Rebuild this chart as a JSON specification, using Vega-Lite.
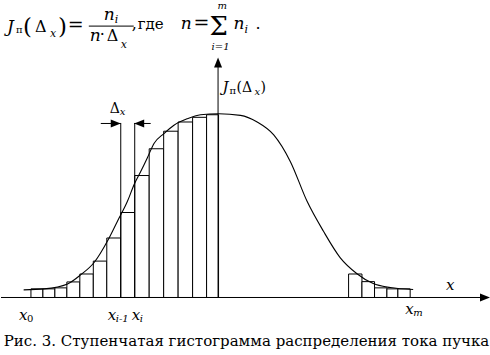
{
  "$schema": "https://vega.github.io/schema/vega-lite/v6.json",
  "width": 490,
  "height": 355,
  "autosize": {"type": "fit", "contains": "padding"},
  "padding": 0,
  "background": "white",
  "config": {"view": {"stroke": null}},
  "datasets": {
    "bars": [
      {"x": 30, "x2": 42, "y": 8.7}, {"x": 42, "x2": 54, "y": 8.7}, {"x": 54, "x2": 66, "y": 9.7},
      {"x": 66, "x2": 79, "y": 15.7}, {"x": 79, "x2": 92.5, "y": 23.7}, {"x": 92.5, "x2": 106, "y": 36.7},
      {"x": 106, "x2": 120, "y": 60}, {"x": 120, "x2": 134, "y": 85.7}, {"x": 134, "x2": 148.5, "y": 123},
      {"x": 148.5, "x2": 163, "y": 150}, {"x": 163, "x2": 177.5, "y": 167.7}, {"x": 177.5, "x2": 192, "y": 177},
      {"x": 192, "x2": 206, "y": 181.7}, {"x": 206, "x2": 218, "y": 184.3},
      {"x": 348.3, "x2": 361.7, "y": 23.7}, {"x": 361.7, "x2": 374.3, "y": 16}, {"x": 374.3, "x2": 386.7, "y": 9.7},
      {"x": 386.7, "x2": 397.7, "y": 8.7}, {"x": 397.7, "x2": 410, "y": 8.7}
    ],
    "curve": [
      {"x": 22.7, "y": 7.7}, {"x": 43.3, "y": 8.7}, {"x": 66.7, "y": 13.7}, {"x": 80, "y": 23}, {"x": 93.3, "y": 35.3},
      {"x": 106.7, "y": 57}, {"x": 116.7, "y": 77}, {"x": 126.7, "y": 97}, {"x": 133.3, "y": 113.7}, {"x": 140, "y": 127},
      {"x": 146.7, "y": 141}, {"x": 153.3, "y": 155.3}, {"x": 163.3, "y": 165.3}, {"x": 173.3, "y": 173.7},
      {"x": 186.7, "y": 180.3}, {"x": 200, "y": 184.3}, {"x": 218.3, "y": 185.3}, {"x": 240, "y": 183.7},
      {"x": 256.7, "y": 177}, {"x": 273.3, "y": 164}, {"x": 290, "y": 137}, {"x": 306.7, "y": 97}, {"x": 323, "y": 67},
      {"x": 340, "y": 40}, {"x": 356.7, "y": 24}, {"x": 373, "y": 14}, {"x": 390, "y": 10}, {"x": 413, "y": 8}
    ],
    "hrules": [
      {"x": 0, "x2": 482, "y": 0}, {"x": 100, "x2": 120, "y": 175.5}, {"x": 133.5, "x2": 150, "y": 175.5},
      {"x": 88, "x2": 133, "y": 273.7}
    ],
    "vrules": [
      {"x": 217.5, "y": 0, "y2": 233}, {"x": 120, "y": 0, "y2": 176}, {"x": 134, "y": 0, "y2": 176}
    ],
    "arrowRight": [{"x": 485, "y": 0}, {"x": 115, "y": 175.5}],
    "arrowLeft": [{"x": 138.5, "y": 175.5}],
    "arrowUp": [{"x": 217.5, "y": 237}],
    "fItal17": [
      {"t": "J", "x": 6, "y": 268}, {"t": "n", "x": 103, "y": 280}, {"t": "n", "x": 89, "y": 259},
      {"t": "n", "x": 180, "y": 271}, {"t": "n", "x": 233, "y": 271}
    ],
    "fRom16": [
      {"t": "Δ", "x": 34, "y": 268}, {"t": "Δ", "x": 106, "y": 259}, {"t": ",", "x": 131, "y": 271},
      {"t": "·", "x": 99, "y": 260}, {"t": ".", "x": 255, "y": 271}
    ],
    "fRom15": [{"t": "где", "x": 137, "y": 271}],
    "fItal11": [
      {"t": "x", "x": 49, "y": 263}, {"t": "i", "x": 114, "y": 277}, {"t": "x", "x": 120, "y": 252},
      {"t": "i", "x": 244, "y": 267}
    ],
    "fItal10": [{"t": "m", "x": 217, "y": 291}, {"t": "i=1", "x": 211, "y": 250}],
    "fRom10": [{"t": "п", "x": 15, "y": 267}],
    "fParen": [{"t": "(", "x": 22, "y": 266}, {"t": ")", "x": 57, "y": 266}],
    "fEq": [{"t": "=", "x": 67, "y": 269}, {"t": "=", "x": 193, "y": 271}],
    "fSigma": [{"t": "Σ", "x": 209, "y": 265}],
    "lItal15": [
      {"t": "J", "x": 222, "y": 207}, {"t": "x", "x": 18, "y": -23}, {"t": "x", "x": 107, "y": -23},
      {"t": "x", "x": 131, "y": -23}, {"t": "x", "x": 405, "y": -17}, {"t": "x", "x": 446, "y": 8}
    ],
    "lRom14": [{"t": "(Δ", "x": 236, "y": 207}, {"t": ")", "x": 260, "y": 207}, {"t": "Δ", "x": 109, "y": 186}],
    "lItal10": [
      {"t": "x", "x": 254, "y": 204}, {"t": "x", "x": 119, "y": 184}, {"t": "i-1", "x": 115, "y": -25},
      {"t": "i", "x": 139, "y": -25}, {"t": "m", "x": 413, "y": -19}
    ],
    "lRom10": [{"t": "п", "x": 229, "y": 205}, {"t": "0", "x": 26, "y": -25}],
    "caption": [{"t": "Рис. 3. Ступенчатая гистограмма распределения тока пучка", "x": 246, "y": -49}]
  },
  "encoding": {
    "x": {"field": "x", "type": "quantitative", "scale": {"domain": [0, 490], "nice": false, "zero": false}, "axis": null},
    "y": {"field": "y", "type": "quantitative", "scale": {"domain": [-58, 297], "nice": false, "zero": false}, "axis": null}
  },
  "layer": [
    {"data": {"name": "bars"}, "mark": {"type": "rect", "fill": "white", "stroke": "black", "strokeWidth": 1},
     "encoding": {"x2": {"field": "x2"}, "y2": {"datum": 0}}},
    {"data": {"name": "vrules"}, "mark": {"type": "rule", "color": "black", "strokeWidth": 1},
     "encoding": {"y2": {"field": "y2"}}},
    {"data": {"name": "hrules"}, "mark": {"type": "rule", "color": "black", "strokeWidth": 1},
     "encoding": {"x2": {"field": "x2"}}},
    {"data": {"name": "curve"}, "mark": {"type": "line", "color": "black", "strokeWidth": 1.1, "interpolate": "monotone"},
     "encoding": {}},
    {"data": {"name": "arrowRight"}, "mark": {"type": "point", "filled": true, "color": "black", "opacity": 1, "size": 100, "shape": "M-1,-0.8L1,0L-1,0.8Z"}},
    {"data": {"name": "arrowLeft"}, "mark": {"type": "point", "filled": true, "color": "black", "opacity": 1, "size": 100, "shape": "M1,-0.8L-1,0L1,0.8Z"}},
    {"data": {"name": "arrowUp"}, "mark": {"type": "point", "filled": true, "color": "black", "opacity": 1, "size": 100, "shape": "M-0.8,1L0,-1L0.8,1Z"}},
    {"data": {"name": "fItal17"}, "mark": {"type": "text", "font": "DejaVu Serif", "baseline": "alphabetic", "align": "left", "color": "black", "fontSize": 17, "fontStyle": "italic"}, "encoding": {"text": {"field": "t"}}},
    {"data": {"name": "fRom16"}, "mark": {"type": "text", "font": "DejaVu Serif", "baseline": "alphabetic", "align": "left", "color": "black", "fontSize": 16}, "encoding": {"text": {"field": "t"}}},
    {"data": {"name": "fRom15"}, "mark": {"type": "text", "font": "DejaVu Serif", "baseline": "alphabetic", "align": "left", "color": "black", "fontSize": 15}, "encoding": {"text": {"field": "t"}}},
    {"data": {"name": "fItal11"}, "mark": {"type": "text", "font": "DejaVu Serif", "baseline": "alphabetic", "align": "left", "color": "black", "fontSize": 11, "fontStyle": "italic"}, "encoding": {"text": {"field": "t"}}},
    {"data": {"name": "fItal10"}, "mark": {"type": "text", "font": "DejaVu Serif", "baseline": "alphabetic", "align": "left", "color": "black", "fontSize": 10, "fontStyle": "italic"}, "encoding": {"text": {"field": "t"}}},
    {"data": {"name": "fRom10"}, "mark": {"type": "text", "font": "DejaVu Serif", "baseline": "alphabetic", "align": "left", "color": "black", "fontSize": 10}, "encoding": {"text": {"field": "t"}}},
    {"data": {"name": "fParen"}, "mark": {"type": "text", "font": "DejaVu Serif", "baseline": "alphabetic", "align": "left", "color": "black", "fontSize": 23}, "encoding": {"text": {"field": "t"}}},
    {"data": {"name": "fEq"}, "mark": {"type": "text", "font": "DejaVu Serif", "baseline": "alphabetic", "align": "left", "color": "black", "fontSize": 19}, "encoding": {"text": {"field": "t"}}},
    {"data": {"name": "fSigma"}, "mark": {"type": "text", "font": "DejaVu Serif", "baseline": "alphabetic", "align": "left", "color": "black", "fontSize": 26}, "encoding": {"text": {"field": "t"}}},
    {"data": {"name": "lItal15"}, "mark": {"type": "text", "font": "DejaVu Serif", "baseline": "alphabetic", "align": "left", "color": "black", "fontSize": 15, "fontStyle": "italic"}, "encoding": {"text": {"field": "t"}}},
    {"data": {"name": "lRom14"}, "mark": {"type": "text", "font": "DejaVu Serif", "baseline": "alphabetic", "align": "left", "color": "black", "fontSize": 14}, "encoding": {"text": {"field": "t"}}},
    {"data": {"name": "lItal10"}, "mark": {"type": "text", "font": "DejaVu Serif", "baseline": "alphabetic", "align": "left", "color": "black", "fontSize": 10, "fontStyle": "italic"}, "encoding": {"text": {"field": "t"}}},
    {"data": {"name": "lRom10"}, "mark": {"type": "text", "font": "DejaVu Serif", "baseline": "alphabetic", "align": "left", "color": "black", "fontSize": 10}, "encoding": {"text": {"field": "t"}}},
    {"data": {"name": "caption"}, "mark": {"type": "text", "font": "DejaVu Serif", "baseline": "alphabetic", "align": "center", "color": "black", "fontSize": 15}, "encoding": {"text": {"field": "t"}}}
  ]
}
